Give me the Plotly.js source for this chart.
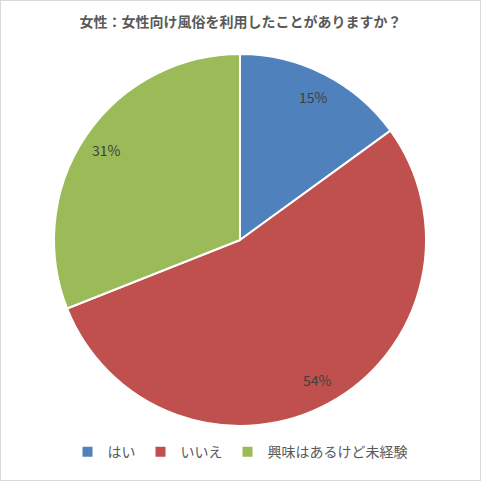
<!DOCTYPE html>
<html>
<head>
<meta charset="utf-8">
<script src="https://cdn.plot.ly/plotly-3.0.1.min.js"></script>
<style>
  body { margin: 0; background: #fff; }
  #chart { width: 479px; height: 479px; border: 1px solid #d9d9d9; }
</style>
</head>
<body>
<div id="chart"></div>
<script>
var labels = ['はい', 'いいえ', '興味はあるけど未経験'];
var values = [15, 54, 31];
var colors = ['#4f81bd', '#c0504d', '#9bbb59'];

// percentage labels sit out toward the rim, along each slice's bisector
var total = values.reduce(function (a, b) { return a + b; }, 0);
var annotations = [];
var start = 0;
values.forEach(function (v) {
    var mid = (start + v / 2) / total * 2 * Math.PI;
    var rr = 0.5 * 0.86;
    annotations.push({
        xref: 'paper', yref: 'paper',
        x: 0.5 + rr * Math.sin(mid),
        y: 0.5 + rr * Math.cos(mid),
        xanchor: 'center', yanchor: 'middle',
        text: Math.round(v / total * 100) + '%',
        showarrow: false,
        font: {family: 'Noto Sans CJK JP', size: 14, color: '#404040'}
    });
    start += v;
});

var trace = {
    type: 'pie',
    labels: labels,
    values: values,
    sort: false,
    direction: 'clockwise',
    rotation: 0,
    marker: {colors: colors, line: {color: '#ffffff', width: 2}},
    textinfo: 'none',
    hoverinfo: 'none'
};

Plotly.newPlot('chart', [trace], {
    width: 479,
    height: 479,
    margin: {l: 52, r: 53, t: 53, b: 52},
    paper_bgcolor: '#ffffff',
    title: {
        text: '<b>女性：女性向け風俗を利用したことがありますか？</b>',
        font: {family: 'Noto Sans CJK JP', size: 14, color: '#595959'},
        x: 0.5, xanchor: 'center',
        y: 0.955, yanchor: 'middle'
    },
    annotations: annotations,
    showlegend: true,
    legend: {
        orientation: 'h',
        x: 0.5, xanchor: 'center',
        y: -0.07, yanchor: 'middle',
        font: {family: 'Noto Sans CJK JP', size: 14, color: '#595959'},
        itemwidth: 30
    }
}, {displayModeBar: false});
</script>
</body>
</html>
